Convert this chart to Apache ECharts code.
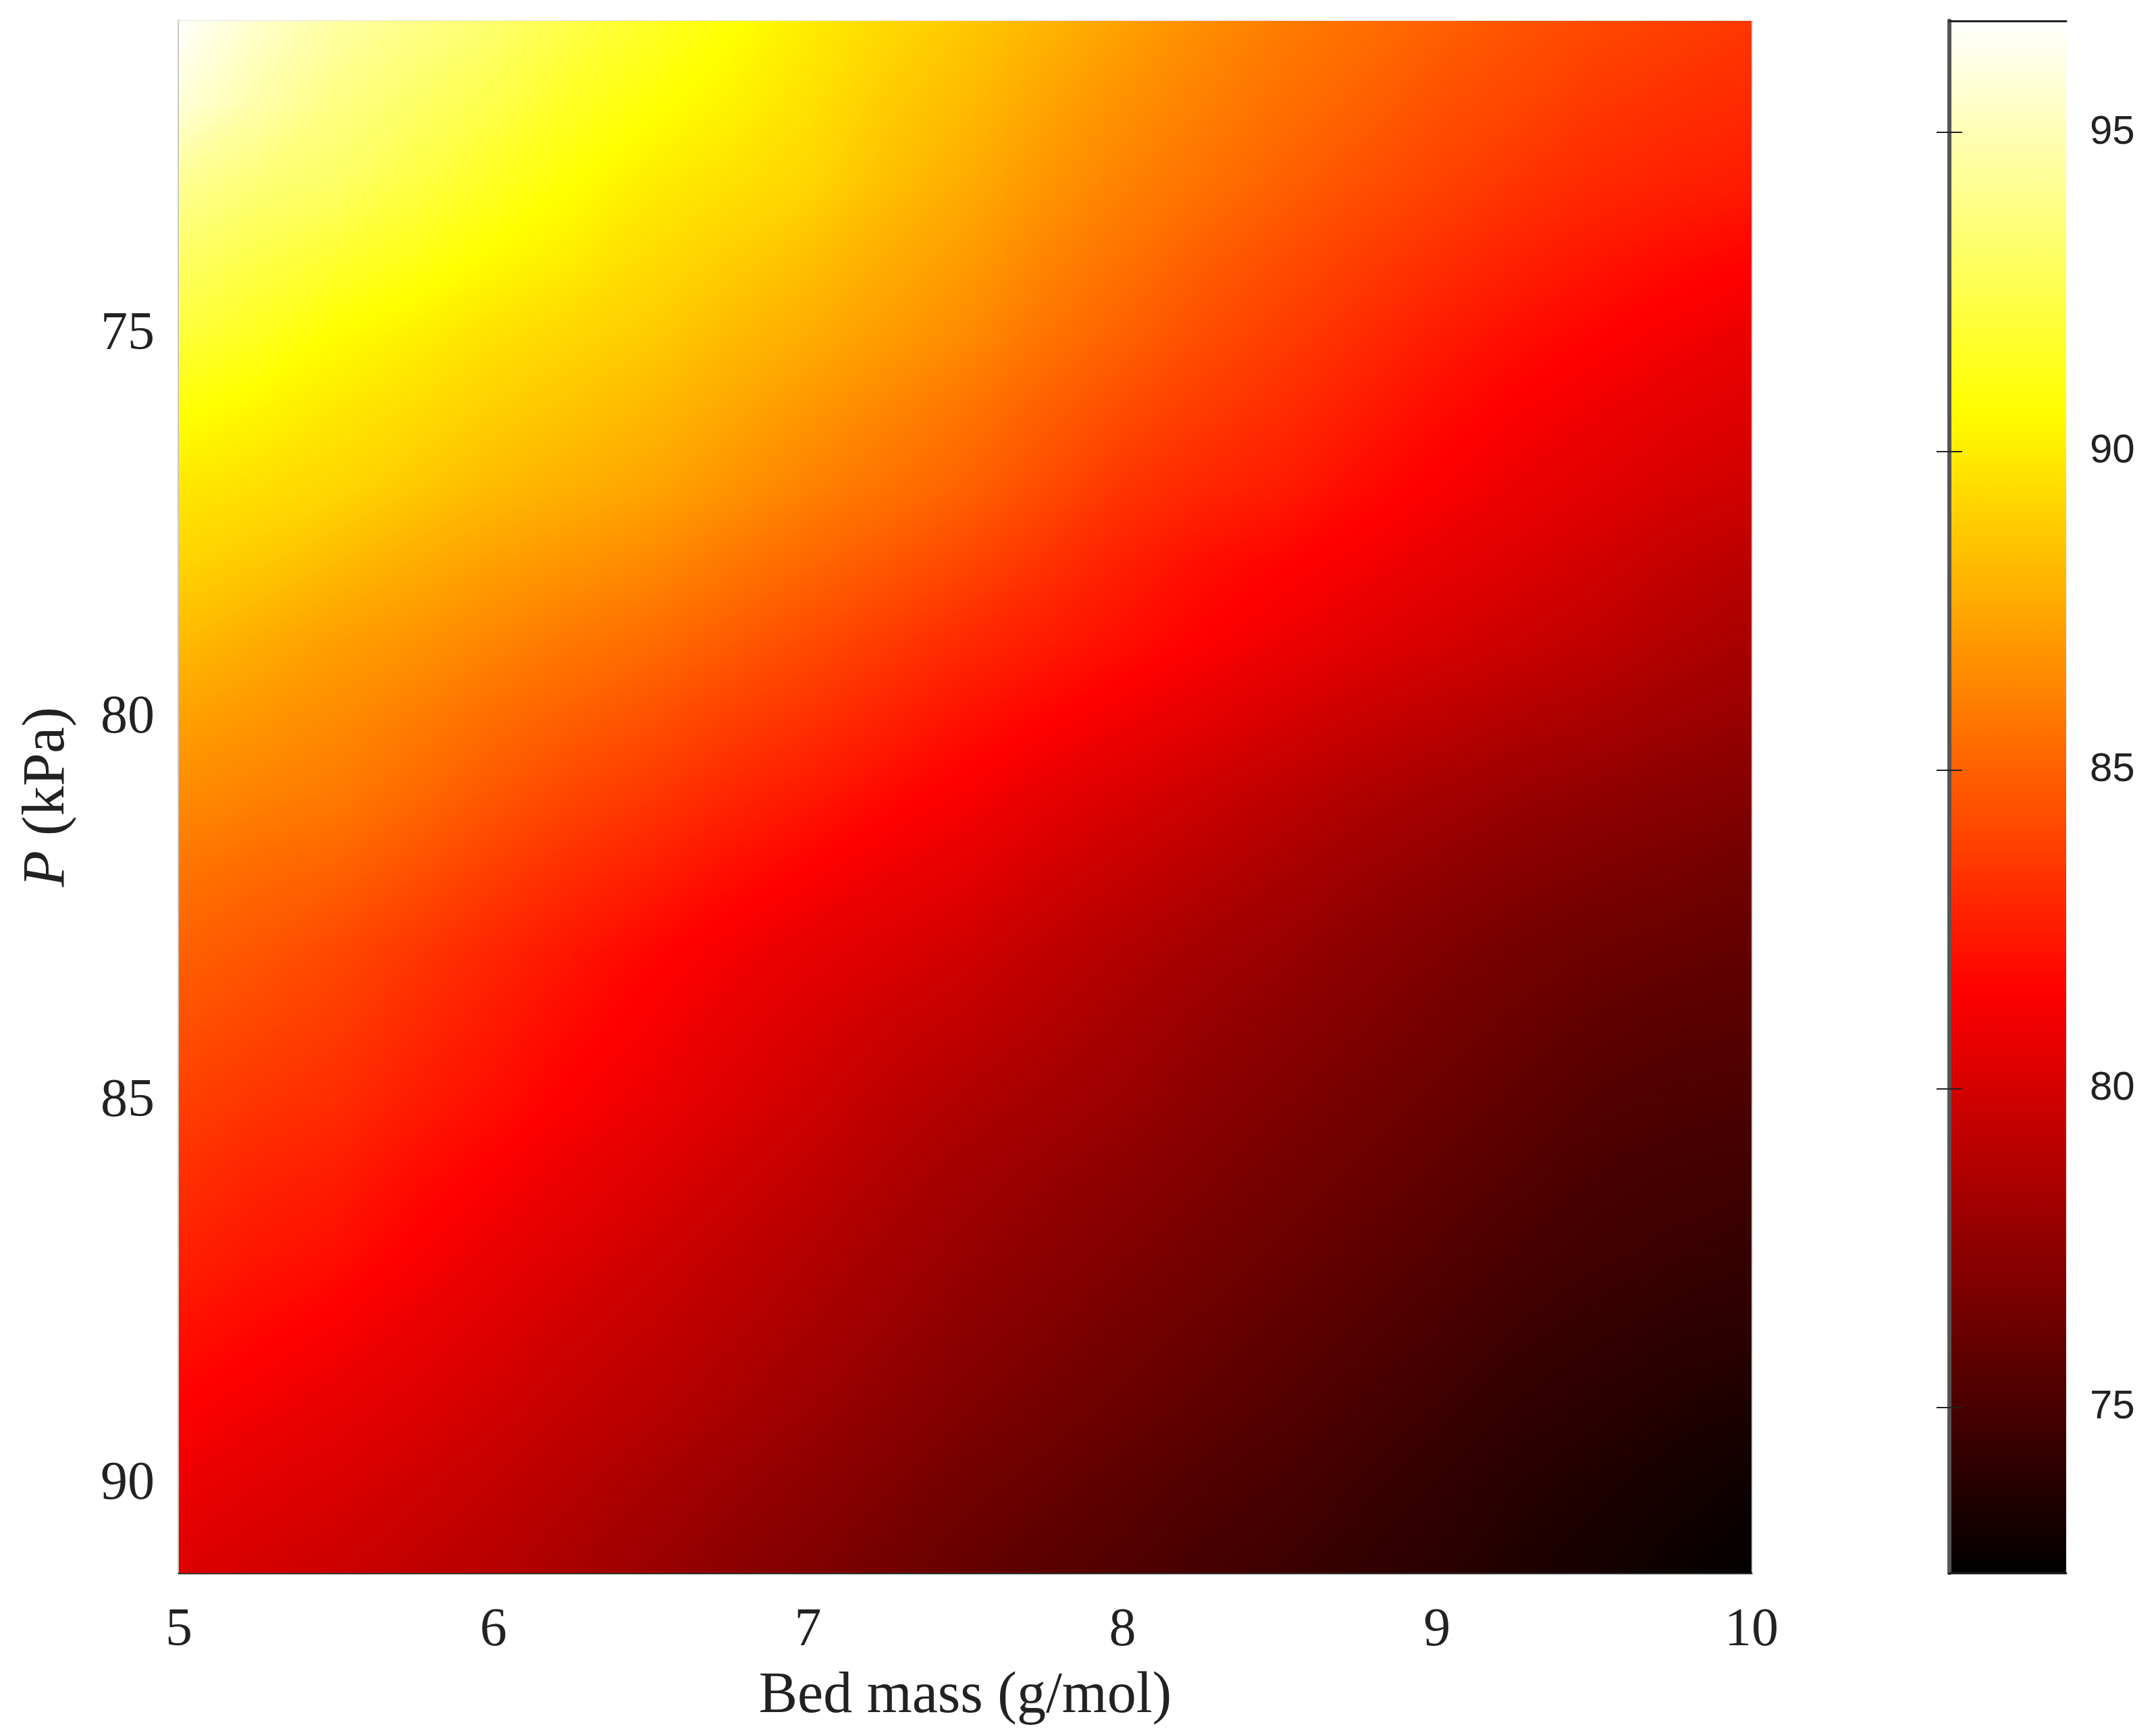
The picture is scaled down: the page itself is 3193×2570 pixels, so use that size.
<!DOCTYPE html>
<html lang="en">
<head>
    <meta charset="UTF-8">
    <title>Bed mass - P heat map</title>
    <script src="https://cdn.jsdelivr.net/npm/echarts/dist/echarts.min.js"></script>
    <style>
        body {
            margin: 0;
            padding: 0;
            background-color: white;
        }
        #main {
            width: 3193px;
            height: 2570px;
        }
    </style>
</head>
<body>
    <div id="main"></div>

    <script type="text/javascript">
        // 横轴 Bed mass，纵轴 P，每行为一个 P 值下读出的数值
        var xValues = [5, 5.25, 5.5, 5.75, 6, 6.25, 6.5, 6.75, 7, 7.25, 7.5, 7.75, 8, 8.25, 8.5, 8.75, 9, 9.25, 9.5, 9.75, 10];
        var yValues = [71, 72, 73, 74, 75, 76, 77, 78, 79, 80, 81, 82, 83, 84, 85, 86, 87, 88, 89, 90, 91];

        var r71 = [96.7, 95.5, 94.6, 93.9, 93.3, 92.4, 91.6, 90.8, 90.0, 89.3, 88.7, 88.0, 87.3, 86.6, 86.0, 85.5, 85.0, 84.5, 84.1, 83.8, 83.5];
        var r72 = [95.8, 94.7, 93.8, 93.1, 92.4, 91.5, 90.8, 90.2, 89.6, 88.8, 88.2, 87.4, 86.7, 86.1, 85.5, 85.0, 84.4, 84.0, 83.5, 83.2, 83.0];
        var r73 = [94.2, 93.5, 93.1, 92.3, 91.5, 90.7, 90.0, 89.6, 89.2, 88.4, 87.7, 86.9, 86.2, 85.6, 85.0, 84.4, 83.9, 83.4, 83.0, 82.7, 82.5];
        var r74 = [93.1, 92.4, 91.8, 91.2, 90.5, 90.0, 89.4, 88.9, 88.4, 87.7, 87.1, 86.3, 85.6, 84.9, 84.3, 83.7, 83.2, 82.7, 82.3, 81.9, 81.6];
        var r75 = [92.1, 91.4, 90.6, 90.1, 89.6, 89.2, 88.8, 88.2, 87.7, 87.1, 86.5, 85.7, 85.0, 84.3, 83.7, 83.1, 82.5, 82.0, 81.6, 81.2, 80.8];
        var r76 = [90.8, 90.3, 89.8, 89.4, 88.9, 88.5, 88.1, 87.5, 86.9, 86.3, 85.7, 84.9, 84.2, 83.6, 83.1, 82.5, 81.9, 81.4, 81.0, 80.6, 80.3];
        var r77 = [89.8, 89.5, 89.2, 88.7, 88.2, 87.8, 87.4, 86.8, 86.2, 85.6, 85.0, 84.2, 83.4, 82.9, 82.5, 81.9, 81.4, 80.9, 80.5, 80.1, 79.8];
        var r78 = [89.1, 88.7, 88.2, 87.7, 87.2, 86.8, 86.4, 85.8, 85.2, 84.6, 84.0, 83.3, 82.6, 82.0, 81.6, 81.2, 80.7, 80.3, 79.9, 79.4, 79.0];
        var r79 = [88.2, 87.7, 87.2, 86.8, 86.3, 85.8, 85.4, 84.8, 84.2, 83.6, 83.0, 82.5, 82.0, 81.5, 81.0, 80.5, 80.1, 79.7, 79.3, 78.8, 78.4];
        var r80 = [87.3, 86.9, 86.5, 86.0, 85.4, 84.9, 84.4, 83.8, 83.3, 82.7, 82.1, 81.6, 81.1, 80.6, 80.1, 79.6, 79.2, 78.8, 78.5, 78.1, 77.8];
        var r81 = [86.5, 86.2, 85.9, 85.3, 84.6, 84.0, 83.5, 82.9, 82.4, 81.8, 81.3, 80.7, 80.2, 79.7, 79.2, 78.7, 78.3, 77.9, 77.6, 77.3, 77.1];
        var r82 = [85.7, 85.3, 85.0, 84.4, 83.7, 83.1, 82.6, 82.0, 81.5, 81.0, 80.6, 80.0, 79.5, 79.0, 78.5, 78.0, 77.6, 77.2, 76.9, 76.7, 76.4];
        var r83 = [85.0, 84.6, 84.1, 83.5, 82.9, 82.3, 81.7, 81.2, 80.7, 80.3, 79.9, 79.3, 78.8, 78.3, 77.9, 77.4, 77.0, 76.6, 76.3, 76.1, 75.9];
        var r84 = [84.4, 84.0, 83.6, 83.0, 82.4, 81.8, 81.3, 80.7, 80.2, 79.7, 79.3, 78.8, 78.3, 77.8, 77.4, 77.0, 76.6, 76.2, 75.8, 75.6, 75.5];
        var r85 = [83.8, 83.4, 83.1, 82.5, 82.0, 81.4, 80.9, 80.3, 79.8, 79.2, 78.7, 78.3, 77.9, 77.4, 77.0, 76.6, 76.2, 75.8, 75.4, 75.2, 75.1];
        var r86 = [83.2, 82.8, 82.5, 81.9, 81.4, 80.8, 80.3, 79.8, 79.3, 78.7, 78.2, 77.8, 77.4, 77.0, 76.6, 76.2, 75.8, 75.4, 75.0, 74.8, 74.7];
        var r87 = [82.7, 82.3, 82.0, 81.4, 80.8, 80.3, 79.8, 79.3, 78.8, 78.3, 77.8, 77.4, 77.0, 76.6, 76.2, 75.8, 75.4, 75.0, 74.7, 74.5, 74.3];
        var r88 = [82.1, 81.7, 81.3, 80.8, 80.3, 79.8, 79.4, 78.9, 78.4, 77.9, 77.4, 77.0, 76.6, 76.2, 75.8, 75.4, 75.0, 74.6, 74.3, 74.0, 73.9];
        var r89 = [81.5, 81.1, 80.7, 80.3, 79.9, 79.4, 79.0, 78.5, 78.0, 77.5, 77.0, 76.6, 76.2, 75.8, 75.4, 75.0, 74.6, 74.2, 73.9, 73.6, 73.4];
        var r90 = [80.9, 80.5, 80.2, 79.8, 79.4, 78.9, 78.4, 77.9, 77.5, 77.0, 76.5, 76.1, 75.7, 75.3, 75.0, 74.6, 74.2, 73.8, 73.5, 73.2, 72.9];
        var r91 = [80.3, 80.0, 79.7, 79.3, 78.9, 78.4, 77.9, 77.4, 77.0, 76.5, 76.0, 75.6, 75.3, 74.9, 74.6, 74.2, 73.9, 73.5, 73.2, 72.8, 72.5];

        var rows = [r71, r72, r73, r74, r75, r76, r77, r78, r79, r80, r81, r82, r83, r84, r85, r86, r87, r88, r89, r90, r91];

        // 刻度标签
        var xTicks = [5, 6, 7, 8, 9, 10];
        var yTicks = [75, 80, 85, 90];
        var colorTicks = [75, 80, 85, 90, 95];

        // 坐标轴和色条范围
        var yMin = 70.9, yMax = 91.15;
        var cMin = 72.4, cMax = 96.75;

        // MATLAB hot 色图：黑 -> 红 -> 黄 -> 白
        function clamp01(t) { return Math.max(0, Math.min(1, t)); }
        function hotColor(v) {
            var t = clamp01((v - cMin) / (cMax - cMin));
            var r = clamp01(t / 0.375);
            var g = clamp01((t - 0.375) / 0.375);
            var b = clamp01((t - 0.75) / 0.25);
            return 'rgb(' + Math.round(r * 255) + ',' + Math.round(g * 255) + ',' + Math.round(b * 255) + ')';
        }
        var hotStops = [];
        for (var k = 0; k < 64; k++) {
            hotStops.push(hotColor(cMin + (cMax - cMin) * k / 63));
        }

        var data = [];
        rows.forEach(function (row, j) {
            row.forEach(function (v, i) {
                data.push([xValues[i], yValues[j], v, i, j]);
            });
        });

        var serif = 'Liberation Serif';
        var sans = 'Liberation Sans';

        // 三角形内按数值线性插值着色（相当于 MATLAB 的 shading interp）
        function triangle(p1, p2, p3, v1, v2, v3) {
            var lo = Math.min(v1, v2, v3), hi = Math.max(v1, v2, v3);
            var fill;
            var e1x = p2[0] - p1[0], e1y = p2[1] - p1[1];
            var e2x = p3[0] - p1[0], e2y = p3[1] - p1[1];
            var det = e1x * e2y - e1y * e2x;
            if (hi - lo < 1e-6 || Math.abs(det) < 1e-9) {
                fill = hotColor((v1 + v2 + v3) / 3);
            } else {
                var ax = ((v2 - v1) * e2y - (v3 - v1) * e1y) / det;
                var ay = ((v3 - v1) * e1x - (v2 - v1) * e2x) / det;
                var a2 = ax * ax + ay * ay;
                var sLo = (lo - v1) / a2, sHi = (hi - v1) / a2;
                var stops = [{ offset: 0, color: hotColor(lo) }];
                [cMin + 0.375 * (cMax - cMin), cMin + 0.75 * (cMax - cMin)].forEach(function (bp) {
                    if (bp > lo && bp < hi) {
                        stops.push({ offset: (bp - lo) / (hi - lo), color: hotColor(bp) });
                    }
                });
                stops.push({ offset: 1, color: hotColor(hi) });
                fill = {
                    type: 'linear',
                    x: p1[0] + ax * sLo, y: p1[1] + ay * sLo,
                    x2: p1[0] + ax * sHi, y2: p1[1] + ay * sHi,
                    colorStops: stops,
                    global: true
                };
            }
            return {
                type: 'polygon',
                shape: { points: [p1, p2, p3] },
                style: { fill: fill, stroke: fill, lineWidth: 1.2 }
            };
        }

        function rowPos(j) {
            if (j === 0) return yMin;
            if (j === yValues.length - 1) return yMax;
            return yValues[j];
        }

        function renderCell(params, api) {
            var i = api.value(3), j = api.value(4);
            if (i >= xValues.length - 1 || j >= yValues.length - 1) return null;
            var x0 = xValues[i], x1 = xValues[i + 1];
            var y0 = rowPos(j), y1 = rowPos(j + 1);
            var p00 = api.coord([x0, y0]), p10 = api.coord([x1, y0]);
            var p01 = api.coord([x0, y1]), p11 = api.coord([x1, y1]);
            var v00 = rows[j][i], v10 = rows[j][i + 1];
            var v01 = rows[j + 1][i], v11 = rows[j + 1][i + 1];
            return {
                type: 'group',
                children: [
                    triangle(p00, p10, p01, v00, v10, v01),
                    triangle(p10, p11, p01, v10, v11, v01)
                ]
            };
        }

        var chart = echarts.init(document.getElementById('main'));

        var option = {
            animation: false,
            backgroundColor: '#fff',
            grid: [
                { left: 265, top: 31, width: 2329, height: 2299 },
                { left: 2887, top: 31, width: 173, height: 2299 }
            ],
            xAxis: [
                {
                    type: 'value', gridIndex: 0, min: 5, max: 10, interval: 1,
                    axisLine: { lineStyle: { color: '#333', width: 3 } },
                    axisTick: { show: false },
                    splitLine: { show: false },
                    axisLabel: {
                        customValues: xTicks,
                        fontFamily: serif, fontSize: 80, color: '#222', margin: 46
                    },
                    name: 'Bed mass (g/mol)',
                    nameLocation: 'middle',
                    nameGap: 140,
                    nameTextStyle: { fontFamily: serif, fontSize: 86, color: '#222' }
                },
                {
                    type: 'value', gridIndex: 0, position: 'top', min: 5, max: 10,
                    axisLine: { lineStyle: { color: '#e4e4e4', width: 2 } },
                    axisTick: { show: false }, axisLabel: { show: false }, splitLine: { show: false }
                },
                {
                    type: 'value', gridIndex: 1, min: 0, max: 1, z: 10,
                    axisLine: { lineStyle: { color: '#222', width: 3 } },
                    axisTick: { show: false }, axisLabel: { show: false }, splitLine: { show: false }
                },
                {
                    type: 'value', gridIndex: 1, position: 'top', min: 0, max: 1, z: 10,
                    axisLine: { lineStyle: { color: '#222', width: 3 } },
                    axisTick: { show: false }, axisLabel: { show: false }, splitLine: { show: false }
                }
            ],
            yAxis: [
                {
                    type: 'value', gridIndex: 0, inverse: true, min: yMin, max: yMax,
                    axisLine: { show: true, lineStyle: { color: '#c8c8c8', width: 4 } },
                    axisTick: { show: false },
                    splitLine: { show: false },
                    axisLabel: {
                        customValues: yTicks,
                        fontFamily: serif, fontSize: 80, color: '#222', margin: 36
                    },
                    name: '{it|P} (kPa)',
                    nameLocation: 'middle',
                    nameGap: 150,
                    nameRotate: 90,
                    nameTextStyle: {
                        fontFamily: serif, fontSize: 88, color: '#222',
                        rich: { it: { fontFamily: serif, fontSize: 88, fontStyle: 'italic', color: '#222' } }
                    }
                },
                {
                    type: 'value', gridIndex: 0, position: 'right', inverse: true, min: yMin, max: yMax,
                    axisLine: { show: true, lineStyle: { color: '#d8d8d8', width: 3 } },
                    axisTick: { show: false }, axisLabel: { show: false }, splitLine: { show: false }
                },
                {
                    type: 'value', gridIndex: 1, min: cMin, max: cMax, z: 10,
                    axisLine: { show: true, lineStyle: { color: '#555', width: 6 } },
                    axisTick: { inside: true, length: 19, customValues: colorTicks, lineStyle: { color: '#222', width: 2 } },
                    axisLabel: { show: false },
                    splitLine: { show: false }
                },
                {
                    type: 'value', gridIndex: 1, position: 'right', min: cMin, max: cMax, z: 10,
                    axisLine: { show: true, lineStyle: { color: '#555', width: 6 } },
                    axisTick: { inside: true, length: 19, customValues: colorTicks, lineStyle: { color: '#222', width: 2 } },
                    axisLabel: {
                        customValues: colorTicks,
                        fontFamily: sans, fontSize: 60, color: '#222', margin: 35
                    },
                    splitLine: { show: false }
                }
            ],
            visualMap: {
                type: 'continuous',
                seriesIndex: 0,
                dimension: 2,
                min: cMin,
                max: cMax,
                calculable: false,
                hoverLink: false,
                left: 2887,
                top: 31,
                itemWidth: 173,
                itemHeight: 2299,
                padding: 0,
                inRange: { color: hotStops }
            },
            series: [
                {
                    type: 'custom',
                    xAxisIndex: 0,
                    yAxisIndex: 0,
                    clip: true,
                    renderItem: renderCell,
                    encode: { x: 0, y: 1 },
                    data: data
                }
            ]
        };

        chart.setOption(option);
    </script>
</body>
</html>
